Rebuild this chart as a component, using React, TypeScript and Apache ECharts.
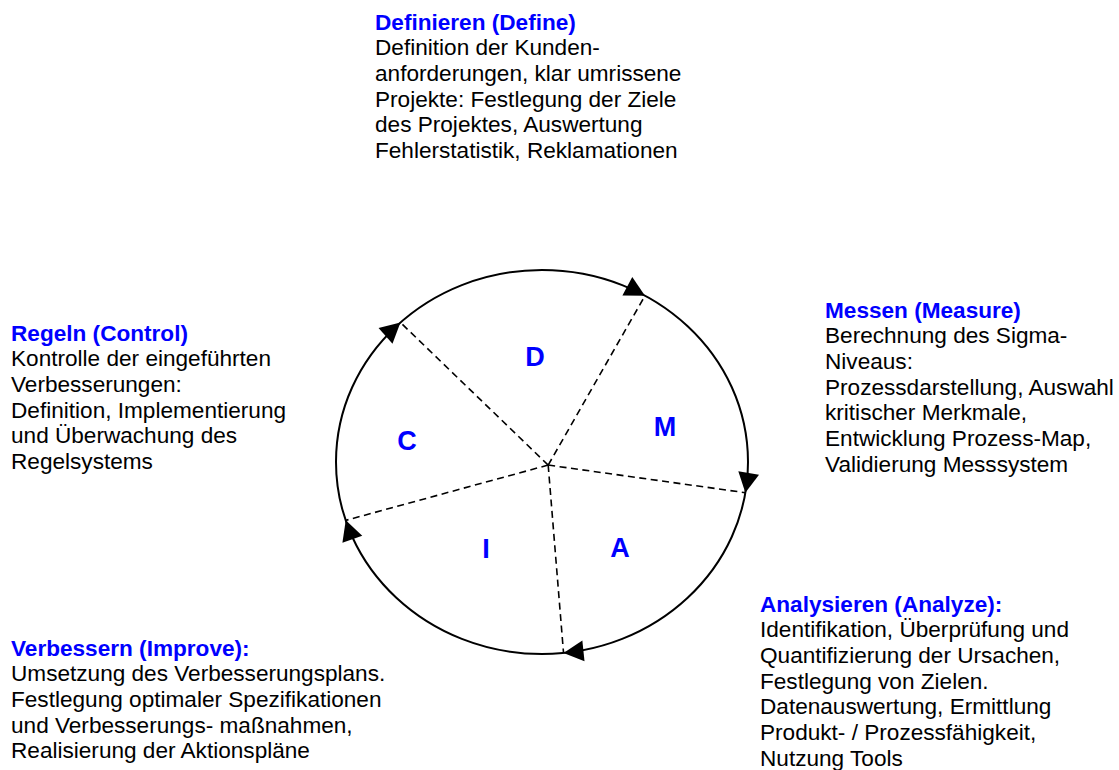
import React, { useEffect, useRef } from "react";
import * as echarts from "echarts";

// DMAIC phases, clockwise starting at the top
const phaseLetters = ["D", "M", "A", "I", "C"];
// boundary spokes: angle (degrees, ellipse parameter space, counter-clockwise from east)
const spokeAngles = [60, -9.2, -84, -162.3, 133.4];
// letter positions in unit-ellipse coordinates
const letterX = [-0.034, 0.597, 0.379, -0.272, -0.655];
const letterY = [0.547, 0.182, -0.448, -0.453, 0.109];
// spoke hub in unit-ellipse coordinates
const hubPoint = [0.03, -0.016];

const titles = [
  "Definieren (Define)",
  "Messen (Measure)",
  "Analysieren (Analyze):",
  "Verbessern (Improve):",
  "Regeln (Control)",
];
const bodyDefine = [
  "Definition der Kunden-",
  "anforderungen, klar umrissene",
  "Projekte: Festlegung der Ziele",
  "des Projektes, Auswertung",
  "Fehlerstatistik, Reklamationen",
];
const bodyMeasure = [
  "Berechnung des Sigma-",
  "Niveaus:",
  "Prozessdarstellung, Auswahl",
  "kritischer Merkmale,",
  "Entwicklung Prozess-Map,",
  "Validierung Messsystem",
];
const bodyAnalyze = [
  "Identifikation, Überprüfung und",
  "Quantifizierung der Ursachen,",
  "Festlegung von Zielen.",
  "Datenauswertung, Ermittlung",
  "Produkt- / Prozessfähigkeit,",
  "Nutzung Tools",
];
const bodyImprove = [
  "Umsetzung des Verbesserungsplans.",
  "Festlegung optimaler Spezifikationen",
  "und Verbesserungs- maßnahmen,",
  "Realisierung der Aktionspläne",
];
const bodyControl = [
  "Kontrolle der eingeführten",
  "Verbesserungen:",
  "Definition, Implementierung",
  "und Überwachung des",
  "Regelsystems",
];
const bodies = [bodyDefine, bodyMeasure, bodyAnalyze, bodyImprove, bodyControl];

// layout of text blocks (left x, title centre y)
const blockLeft = [375, 825, 760, 11, 11];
const blockTitleY = [22, 310, 604, 648, 333];

const FONT = "'Liberation Sans', Arial, Helvetica, sans-serif";
const BLUE = "#0000FF";
const LINE_H = 25.7;
const FS = 22.6;

export default function App() {
  const ref = useRef<HTMLDivElement>(null);

  useEffect(() => {
    if (!ref.current) return;
    const chart = echarts.init(ref.current, undefined, { renderer: "svg" });

    const graphics: any[] = [];
    titles.forEach((t, i) => {
      graphics.push({
        type: "text",
        x: blockLeft[i],
        y: blockTitleY[i],
        style: {
          text: t,
          fill: BLUE,
          fontFamily: FONT,
          fontSize: FS,
          fontWeight: "bold",
          verticalAlign: "middle",
          align: "left",
        },
      });
      graphics.push({
        type: "text",
        x: blockLeft[i],
        y: blockTitleY[i] + LINE_H / 2,
        style: {
          text: bodies[i].join("\n"),
          fill: "#000",
          fontFamily: FONT,
          fontSize: FS,
          lineHeight: LINE_H,
          verticalAlign: "top",
          align: "left",
        },
      });
    });

    const option: any = {
      animation: false,
      backgroundColor: "#fff",
      grid: { left: 336, top: 270, width: 412, height: 384 },
      xAxis: { type: "value", min: -1, max: 1, show: false },
      yAxis: { type: "value", min: -1, max: 1, show: false },
      graphic: graphics,
      series: [
        {
          type: "custom",
          name: "ring",
          clip: false,
          silent: true,
          data: [[0, 0]],
          renderItem: (params: any, api: any) => {
            const c = api.coord([0, 0]);
            const e = api.coord([1, 1]);
            return {
              type: "ellipse",
              shape: { cx: c[0], cy: c[1], rx: e[0] - c[0], ry: c[1] - e[1] },
              style: { fill: "none", stroke: "#000", lineWidth: 2 },
            };
          },
        },
        {
          type: "custom",
          name: "spokes",
          clip: false,
          silent: true,
          data: spokeAngles.map((a) => [a]),
          renderItem: (params: any, api: any) => {
            const a = (api.value(0) * Math.PI) / 180;
            const h = api.coord(hubPoint);
            const p = api.coord([Math.cos(a), Math.sin(a)]);
            return {
              type: "line",
              shape: { x1: h[0], y1: h[1], x2: p[0], y2: p[1] },
              style: { stroke: "#000", lineWidth: 1.6, lineDash: [7, 4.5] },
            };
          },
        },
        {
          type: "custom",
          name: "arrows",
          clip: false,
          silent: true,
          data: spokeAngles.map((a) => [a]),
          renderItem: (params: any, api: any) => {
            const a = (api.value(0) * Math.PI) / 180;
            const tip = api.coord([Math.cos(a), Math.sin(a)]);
            const back = api.coord([Math.cos(a + 0.01), Math.sin(a + 0.01)]);
            let dx = tip[0] - back[0];
            let dy = tip[1] - back[1];
            const len = Math.hypot(dx, dy) || 1;
            dx /= len;
            dy /= len;
            const L = 20;
            const W = 10.5;
            const bx = tip[0] - dx * L;
            const by = tip[1] - dy * L;
            return {
              type: "polygon",
              shape: {
                points: [
                  [tip[0], tip[1]],
                  [bx - dy * W, by + dx * W],
                  [bx + dy * W, by - dx * W],
                ],
              },
              style: { fill: "#000", stroke: "none" },
            };
          },
        },
        {
          type: "custom",
          name: "letters",
          clip: false,
          silent: true,
          data: phaseLetters.map((l, i) => [letterX[i], letterY[i], i]),
          renderItem: (params: any, api: any) => {
            const p = api.coord([api.value(0), api.value(1)]);
            return {
              type: "text",
              x: p[0],
              y: p[1],
              style: {
                text: phaseLetters[params.dataIndex],
                fill: BLUE,
                fontFamily: FONT,
                fontSize: 27,
                fontWeight: "bold",
                align: "center",
                verticalAlign: "middle",
              },
            };
          },
        },
      ],
    };
    chart.setOption(option);
    return () => chart.dispose();
  }, []);

  return (
    <div
      ref={ref}
      style={{ position: "absolute", left: 0, top: 0, width: 1119, height: 770, background: "#fff" }}
    />
  );
}
